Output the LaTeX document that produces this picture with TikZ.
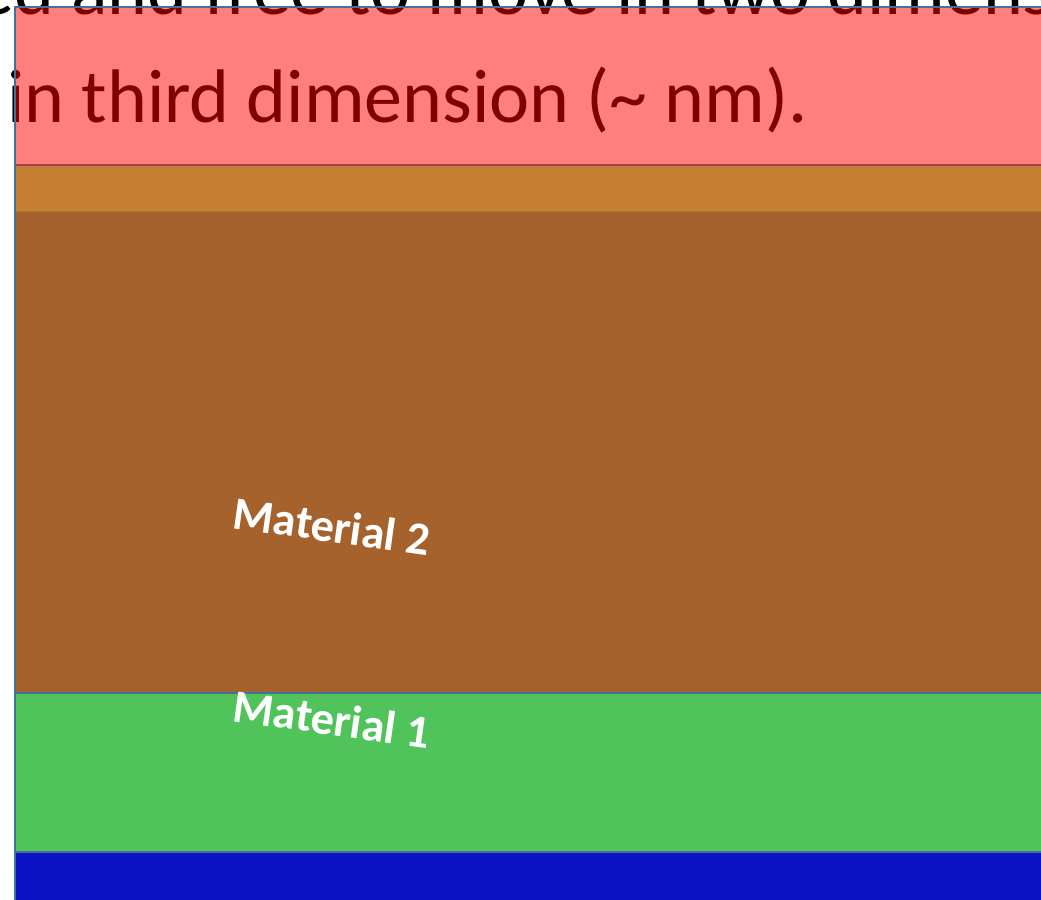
\documentclass[tikz,border=0pt]{standalone}
\usepackage{fontspec}
\setmainfont{Carlito}
\definecolor{edgeblue}{HTML}{41719C}
\definecolor{edgered}{HTML}{A83F52}
\definecolor{orangeband}{HTML}{C47F33}
\definecolor{orangeedge}{HTML}{B5712F}
\definecolor{brownband}{HTML}{A5622C}
\definecolor{greenband}{HTML}{50C45A}
\definecolor{navyband}{HTML}{0A12C4}
\tikzset{
  bigtext/.style={anchor=base west, inner sep=0pt, text=black, font=\fontsize{54}{60}\selectfont},
  matlabel/.style={anchor=center, inner sep=0pt, text=white, font=\fontsize{33}{38}\selectfont\bfseries, rotate=-8},
  edge/.style={draw=edgeblue, line width=1.4pt}
}
\begin{document}
\begin{tikzpicture}[x=0.025cm,y=-0.025cm]
\useasboundingbox (0,0) rectangle (1041,900);
\clip (0,0) rectangle (1041,900);
\fill[white] (0,0) rectangle (1041,900);
% text behind the translucent red box
\node[bigtext] (lineone) at (-24,15) {ed and free to move in two dimens};
\node[bigtext] (linetwo) at (7,123) {in third dimension (\symbol{"7E} nm).};
% layers
\fill[red, opacity=0.5] (15,7) rectangle (1050,165);
\fill[orangeband] (15,165) rectangle (1050,212);
\fill[brownband] (15,212) rectangle (1050,693);
\draw[orangeedge, line width=1.2pt] (15,211.5) -- (1050,211.5);
\fill[greenband] (15,693) rectangle (1050,852);
\fill[navyband] (15,852) rectangle (1050,900);
% outlines
\draw[edgered, line width=1.4pt] (15,165) -- (1050,165);
\draw[edge] (15,693) -- (1050,693);
\draw[edge] (15,852) -- (1050,852);
\draw[edge] (1050,7) -- (15,7) -- (15,905);
% labels
\node[matlabel] (mattwo) at (332,526) {Material 2};
\node[matlabel] (matone) at (332,719) {Material 1};
\end{tikzpicture}
\end{document}
